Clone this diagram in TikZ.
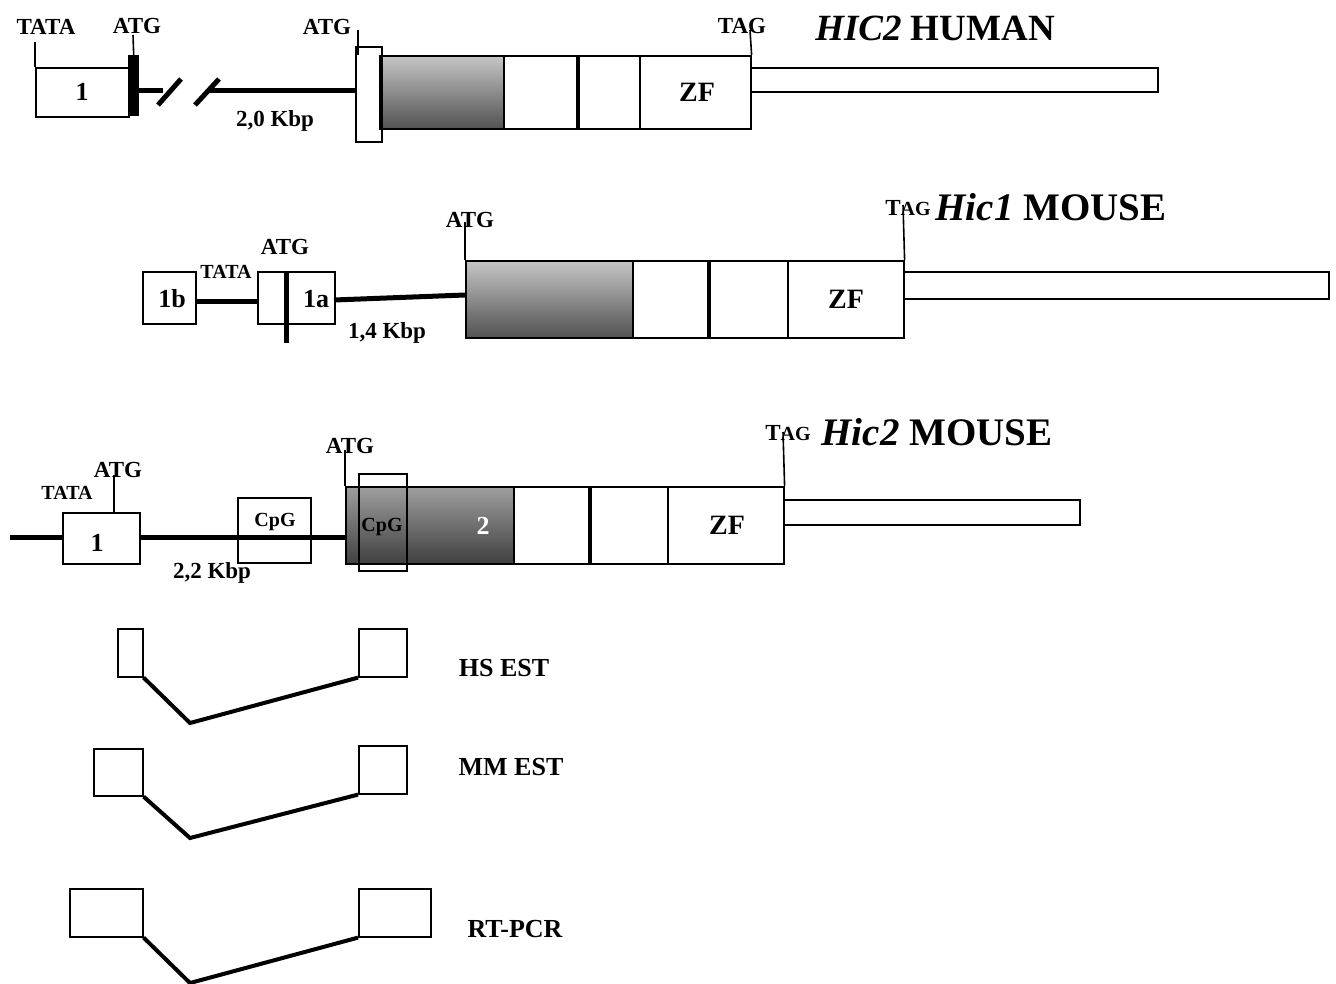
\documentclass[tikz,border=0pt]{standalone}
\usepackage{fontspec}
\setmainfont{Liberation Serif}
\begin{document}
\begin{tikzpicture}[x=1pt,y=-1pt,
  thinln/.style={line width=1.6pt},
  thickln/.style={line width=4pt},
  intron/.style={line width=5pt},
  box/.style={draw, line width=1.6pt, fill=white, rectangle, inner sep=0pt, anchor=north west},
  obox/.style={draw, line width=1.6pt, rectangle, inner sep=0pt, anchor=north west},
  gradA/.style={box, top color=gray!45, bottom color=black!68},
  gradB/.style={box, top color=black!38, bottom color=black!75},
  bar/.style={line width=4.5pt},
  lab/.style={font=\fontsize{23}{25}\selectfont\bfseries, inner sep=0pt},
  slab/.style={font=\fontsize{20}{22}\selectfont\bfseries, inner sep=0pt},
  mlab/.style={font=\fontsize{26}{28}\selectfont\bfseries, inner sep=0pt},
  zf/.style={font=\fontsize{28}{30}\selectfont\bfseries, inner sep=0pt},
  title/.style={font=\fontsize{37}{40}\selectfont\bfseries, inner sep=0pt},
  title2/.style={font=\fontsize{39}{42}\selectfont\bfseries, inner sep=0pt},
  tagsc/.style={font=\bfseries, inner sep=0pt},
]
\useasboundingbox (0,0) rectangle (1336,983);

% ===== Row 1: HIC2 HUMAN =====
\node[box, minimum width=93pt, minimum height=49pt] (h1) at (35,67) {};
\node[mlab] (h1l) at (82,92) {1};
\node[fill=black, inner sep=0pt, anchor=north west, minimum width=11pt, minimum height=61pt] (hbar) at (128,55) {};
\coordinate (htata) at (35,42);
\draw[thinln] (htata) -- (h1.north west);
\coordinate (hatg1) at (133,35);
\draw[thinln] (hatg1) -- (hbar.north);
\coordinate (hi1) at (163,90);
\draw[intron] (hbar.east |- hi1) -- (hi1);
\draw[line width=5pt] (158,105) -- (181,79);
\draw[line width=5pt] (195,105) -- (219,79);
\node[box, minimum width=26pt, minimum height=95pt] (hs) at (355,46) {};
\coordinate (hi2) at (207,90);
\draw[intron] (hi2) -- (hs.west |- hi2);
\coordinate (hatg2) at (358,30);
\coordinate (hatg2b) at (358,55);
\draw[thinln] (hatg2) -- (hatg2b);
\node[gradA, minimum width=122pt, minimum height=73pt] (hg) at (381,55) {};
\draw[bar] (hg.north west) -- (hg.south west);
\node[box, minimum width=75pt, minimum height=73pt] (hb1) at (503,55) {};
\node[box, minimum width=61pt, minimum height=73pt] (hb2) at (578,55) {};
\draw[bar] (hb2.north west) -- (hb2.south west);
\node[box, minimum width=111pt, minimum height=73pt] (hzf) at (639,55) {};
\node[zf] (hzfl) at (697,92) {ZF};
\node[box, minimum width=407pt, minimum height=24pt] (ht) at (750,67) {};
\coordinate (htag) at (750,30);
\draw[thinln] (htag) -- (hzf.north east);
\node[lab] (lt1) at (46,27) {TATA};
\node[lab] (la1) at (137,26) {ATG};
\node[lab] (la2) at (327,27) {ATG};
\node[lab] (lk1) at (275,121) {2,0 Kbp};
\node[lab] (lg1) at (742,26) {TAG};
\node[title] (ti1) at (935,28) {\itshape HIC2\upshape\ HUMAN};

% ===== Row 2: Hic1 MOUSE =====
\node[box, minimum width=53pt, minimum height=52pt] (m1b) at (142,271) {};
\node[box, minimum width=77pt, minimum height=52pt] (m1a) at (257,271) {};
\draw[intron] (m1b.east |- 0,301) -- (m1a.west |- 0,301);
\draw[line width=5pt] (286,271) -- (286,343);
\node[mlab] (l1b) at (172,299) {1b};
\node[mlab] (l1a) at (316,299) {1a};
\node[gradA, minimum width=167pt, minimum height=77pt] (mg) at (465,260) {};
\coordinate (mi1) at (334,300);
\coordinate (mi2) at (465,295);
\draw[intron] (mi1) -- (mi2);
\node[box, minimum width=77pt, minimum height=77pt] (mb1) at (632,260) {};
\node[box, minimum width=78pt, minimum height=77pt] (mb2) at (709,260) {};
\draw[bar] (mb2.north west) -- (mb2.south west);
\node[box, minimum width=116pt, minimum height=77pt] (mzf) at (787,260) {};
\node[zf] (mzfl) at (846,299) {ZF};
\node[box, minimum width=425pt, minimum height=27pt] (mt) at (903,271) {};
\coordinate (matg) at (465,222);
\draw[thinln] (matg) -- (mg.north west);
\coordinate (mtag) at (903,205);
\draw[thinln] (mtag) -- (mzf.north east);
\node[slab] (lt2) at (226,272) {TATA};
\node[lab] (la3) at (285,247) {ATG};
\node[lab] (lk2) at (387,333) {1,4 Kbp};
\node[lab] (la4) at (470,220) {ATG};
\node[tagsc] (lg2) at (908,208) {\fontsize{23}{25}\selectfont T\fontsize{20}{22}\selectfont AG};
\node[title2] (ti2) at (1051,207) {\itshape Hic1\upshape\ MOUSE};

% ===== Row 3: Hic2 MOUSE =====
\coordinate (ps) at (10,537);
\node[box, minimum width=77pt, minimum height=51pt] (p1) at (62,512) {};
\node[mlab] (p1l) at (97,543) {1};
\draw[intron] (ps) -- (p1.west |- ps);
\node[gradB, minimum width=168pt, minimum height=77pt] (pg) at (345,486) {};
\draw[intron] (p1.east |- ps) -- (pg.west |- ps);
\node[obox, minimum width=73pt, minimum height=65pt] (pc1) at (237,497) {};
\node[obox, minimum width=48pt, minimum height=97pt] (pc2) at (358,473) {};
\node[slab] (lc1) at (275,522) {CpG};
\node[slab] (lc2) at (382,527) {CpG};
\node[mlab, text=white] (l2) at (483,526) {2};
\node[box, minimum width=77pt, minimum height=77pt] (pb1) at (513,486) {};
\node[box, minimum width=77pt, minimum height=77pt] (pb2) at (590,486) {};
\draw[bar] (pb2.north west) -- (pb2.south west);
\node[box, minimum width=116pt, minimum height=77pt] (pzf) at (667,486) {};
\node[zf] (pzfl) at (727,525) {ZF};
\node[box, minimum width=296pt, minimum height=25pt] (pt) at (783,499) {};
\coordinate (patg1) at (114,475);
\draw[thinln] (patg1) -- (114,512);
\coordinate (patg2) at (345,450);
\draw[thinln] (patg2) -- (pg.north west);
\coordinate (ptag) at (783,432);
\draw[thinln] (ptag) -- (pzf.north east);
\node[lab] (la5) at (118,470) {ATG};
\node[slab] (lt3) at (67,493) {TATA};
\node[lab] (lk3) at (212,573) {2,2 Kbp};
\node[lab] (la6) at (350,446) {ATG};
\node[tagsc] (lg3) at (788,433) {\fontsize{23}{25}\selectfont T\fontsize{20}{22}\selectfont AG};
\node[title2] (ti3) at (937,432) {\itshape Hic2\upshape\ MOUSE};

% ===== EST rows =====
\node[box, minimum width=25pt, minimum height=48pt] (e1l) at (117,628) {};
\node[box, minimum width=48pt, minimum height=48pt] (e1r) at (358,628) {};
\coordinate (e1v) at (190,723);
\draw[thickln] (e1l.south east) -- (e1v) -- (e1r.south west);
\node[mlab] (le1) at (504,668) {HS EST};

\node[box, minimum width=49pt, minimum height=47pt] (e2l) at (93,748) {};
\node[box, minimum width=48pt, minimum height=48pt] (e2r) at (358,745) {};
\coordinate (e2v) at (190,838);
\draw[thickln] (e2l.south east) -- (e2v) -- (e2r.south west);
\node[mlab] (le2) at (511,767) {MM EST};

\node[box, minimum width=73pt, minimum height=48pt] (e3l) at (69,888) {};
\node[box, minimum width=72pt, minimum height=48pt] (e3r) at (358,888) {};
\coordinate (e3v) at (190,983);
\draw[thickln] (e3l.south east) -- (e3v) -- (e3r.south west);
\node[mlab] (le3) at (515,929) {RT-PCR};
\end{tikzpicture}
\end{document}
